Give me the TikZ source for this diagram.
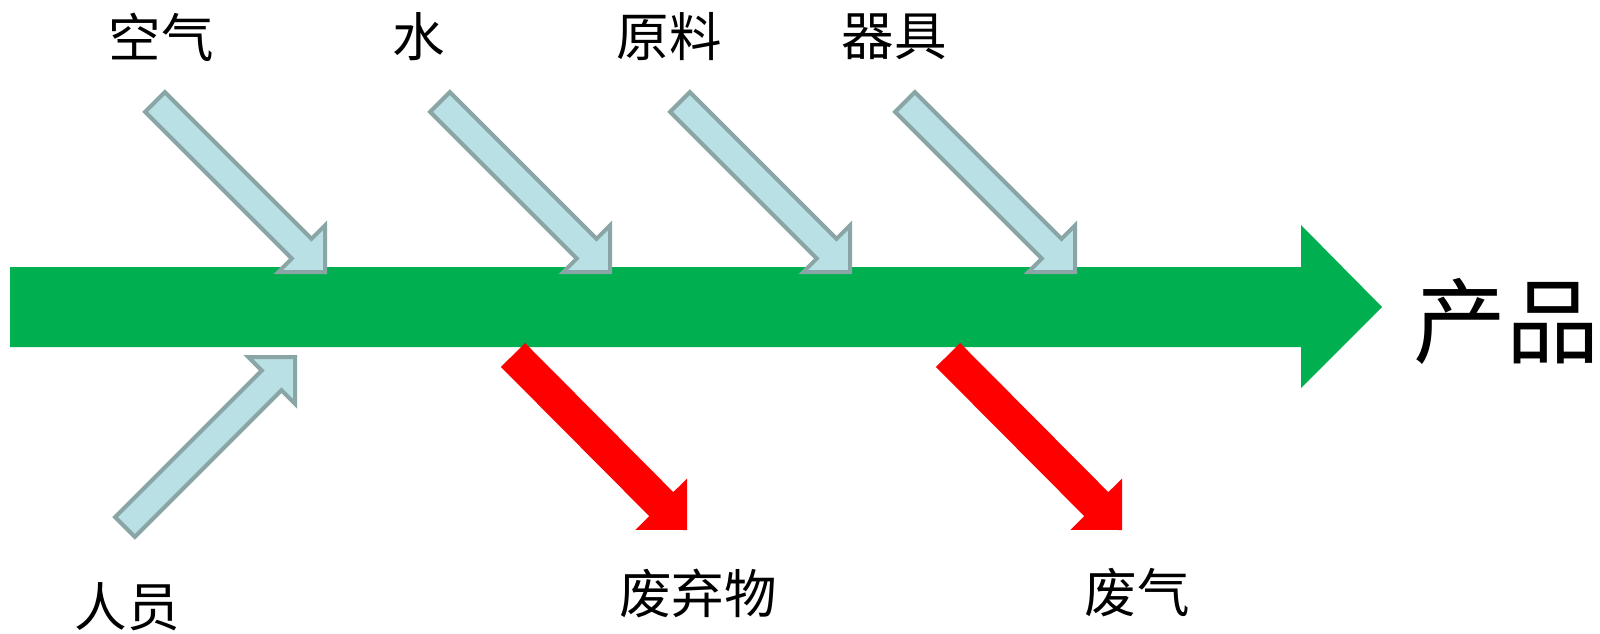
\documentclass[tikz,border=0pt]{standalone}
\usepackage{fontspec}
\newfontfamily\cjk{Noto Sans CJK SC}
\usetikzlibrary{calc}
\definecolor{mygreen}{RGB}{0,176,80}
\definecolor{bluefill}{RGB}{185,224,228}
\definecolor{blueedge}{RGB}{138,165,166}
% #1 style, #2 tail, #3 tip, #4 half shaft width, #5 half head width, #6 head length
\newcommand{\fatarrow}[6]{%
  \coordinate (fa-base) at ($(#3)!#6!(#2)$);
  \path[#1] ($(#2)!#4!90:(#3)$) -- ($(fa-base)!#4!90:(#3)$) -- ($(fa-base)!#5!90:(#3)$)
    -- (#3) -- ($(fa-base)!#5!-90:(#3)$) -- ($(fa-base)!#4!-90:(#3)$)
    -- ($(#2)!#4!-90:(#3)$) -- cycle;
}
\begin{document}
\begin{tikzpicture}[x=1pt,y=-1pt,
  lab/.style={font=\cjk\fontsize{52.5}{52.5}\selectfont, inner sep=0pt},
  biglab/.style={font=\cjk\fontsize{93}{93}\selectfont, inner sep=0pt},
  inarrow/.style={fill=bluefill, draw=blueedge, line width=4pt, line join=miter},
  outarrow/.style={fill=red},
  mainarrow/.style={fill=mygreen}]
\useasboundingbox (0,0) rectangle (1600,633);
\fill[white] (0,0) rectangle (1600,633);
% main green arrow
\path[mainarrow] (10,267) -- (1301,267) -- (1301,225) -- (1382,307) -- (1301,388) -- (1301,347) -- (10,347) -- cycle;
% input arrows (top)
\coordinate (a1-tail) at (155,102);  \coordinate (a1-tip) at (325,272);
\coordinate (a2-tail) at (440,102);  \coordinate (a2-tip) at (610,272);
\coordinate (a3-tail) at (680,102);  \coordinate (a3-tip) at (850,272);
\coordinate (a4-tail) at (905,102);  \coordinate (a4-tip) at (1075,272);
\coordinate (a5-tail) at (125,527);  \coordinate (a5-tip) at (295,357);
\fatarrow{inarrow}{a1-tail}{a1-tip}{14pt}{33pt}{33pt}
\fatarrow{inarrow}{a2-tail}{a2-tip}{14pt}{33pt}{33pt}
\fatarrow{inarrow}{a3-tail}{a3-tip}{14pt}{33pt}{33pt}
\fatarrow{inarrow}{a4-tail}{a4-tip}{14pt}{33pt}{33pt}
\fatarrow{inarrow}{a5-tail}{a5-tip}{14pt}{33pt}{33pt}
% output arrows
\coordinate (o1-tail) at (513,355);  \coordinate (o1-tip) at (687,530);
\coordinate (o2-tail) at (948,355);  \coordinate (o2-tip) at (1122,530);
\fatarrow{outarrow}{o1-tail}{o1-tip}{17pt}{36.5pt}{36.5pt}
\fatarrow{outarrow}{o2-tail}{o2-tip}{17pt}{36.5pt}{36.5pt}
% labels
\node[lab] (air) at (161,37) {空气};
\node[lab] (water) at (419,37) {水};
\node[lab] (raw) at (669,37) {原料};
\node[lab] (tools) at (894,37) {器具};
\node[lab] (staff) at (127,607) {人员};
\node[lab] (waste) at (698,593) {废弃物};
\node[lab] (gas) at (1137,593) {废气};
\node[biglab] (product) at (1506,321) {产品};
\end{tikzpicture}
\end{document}
